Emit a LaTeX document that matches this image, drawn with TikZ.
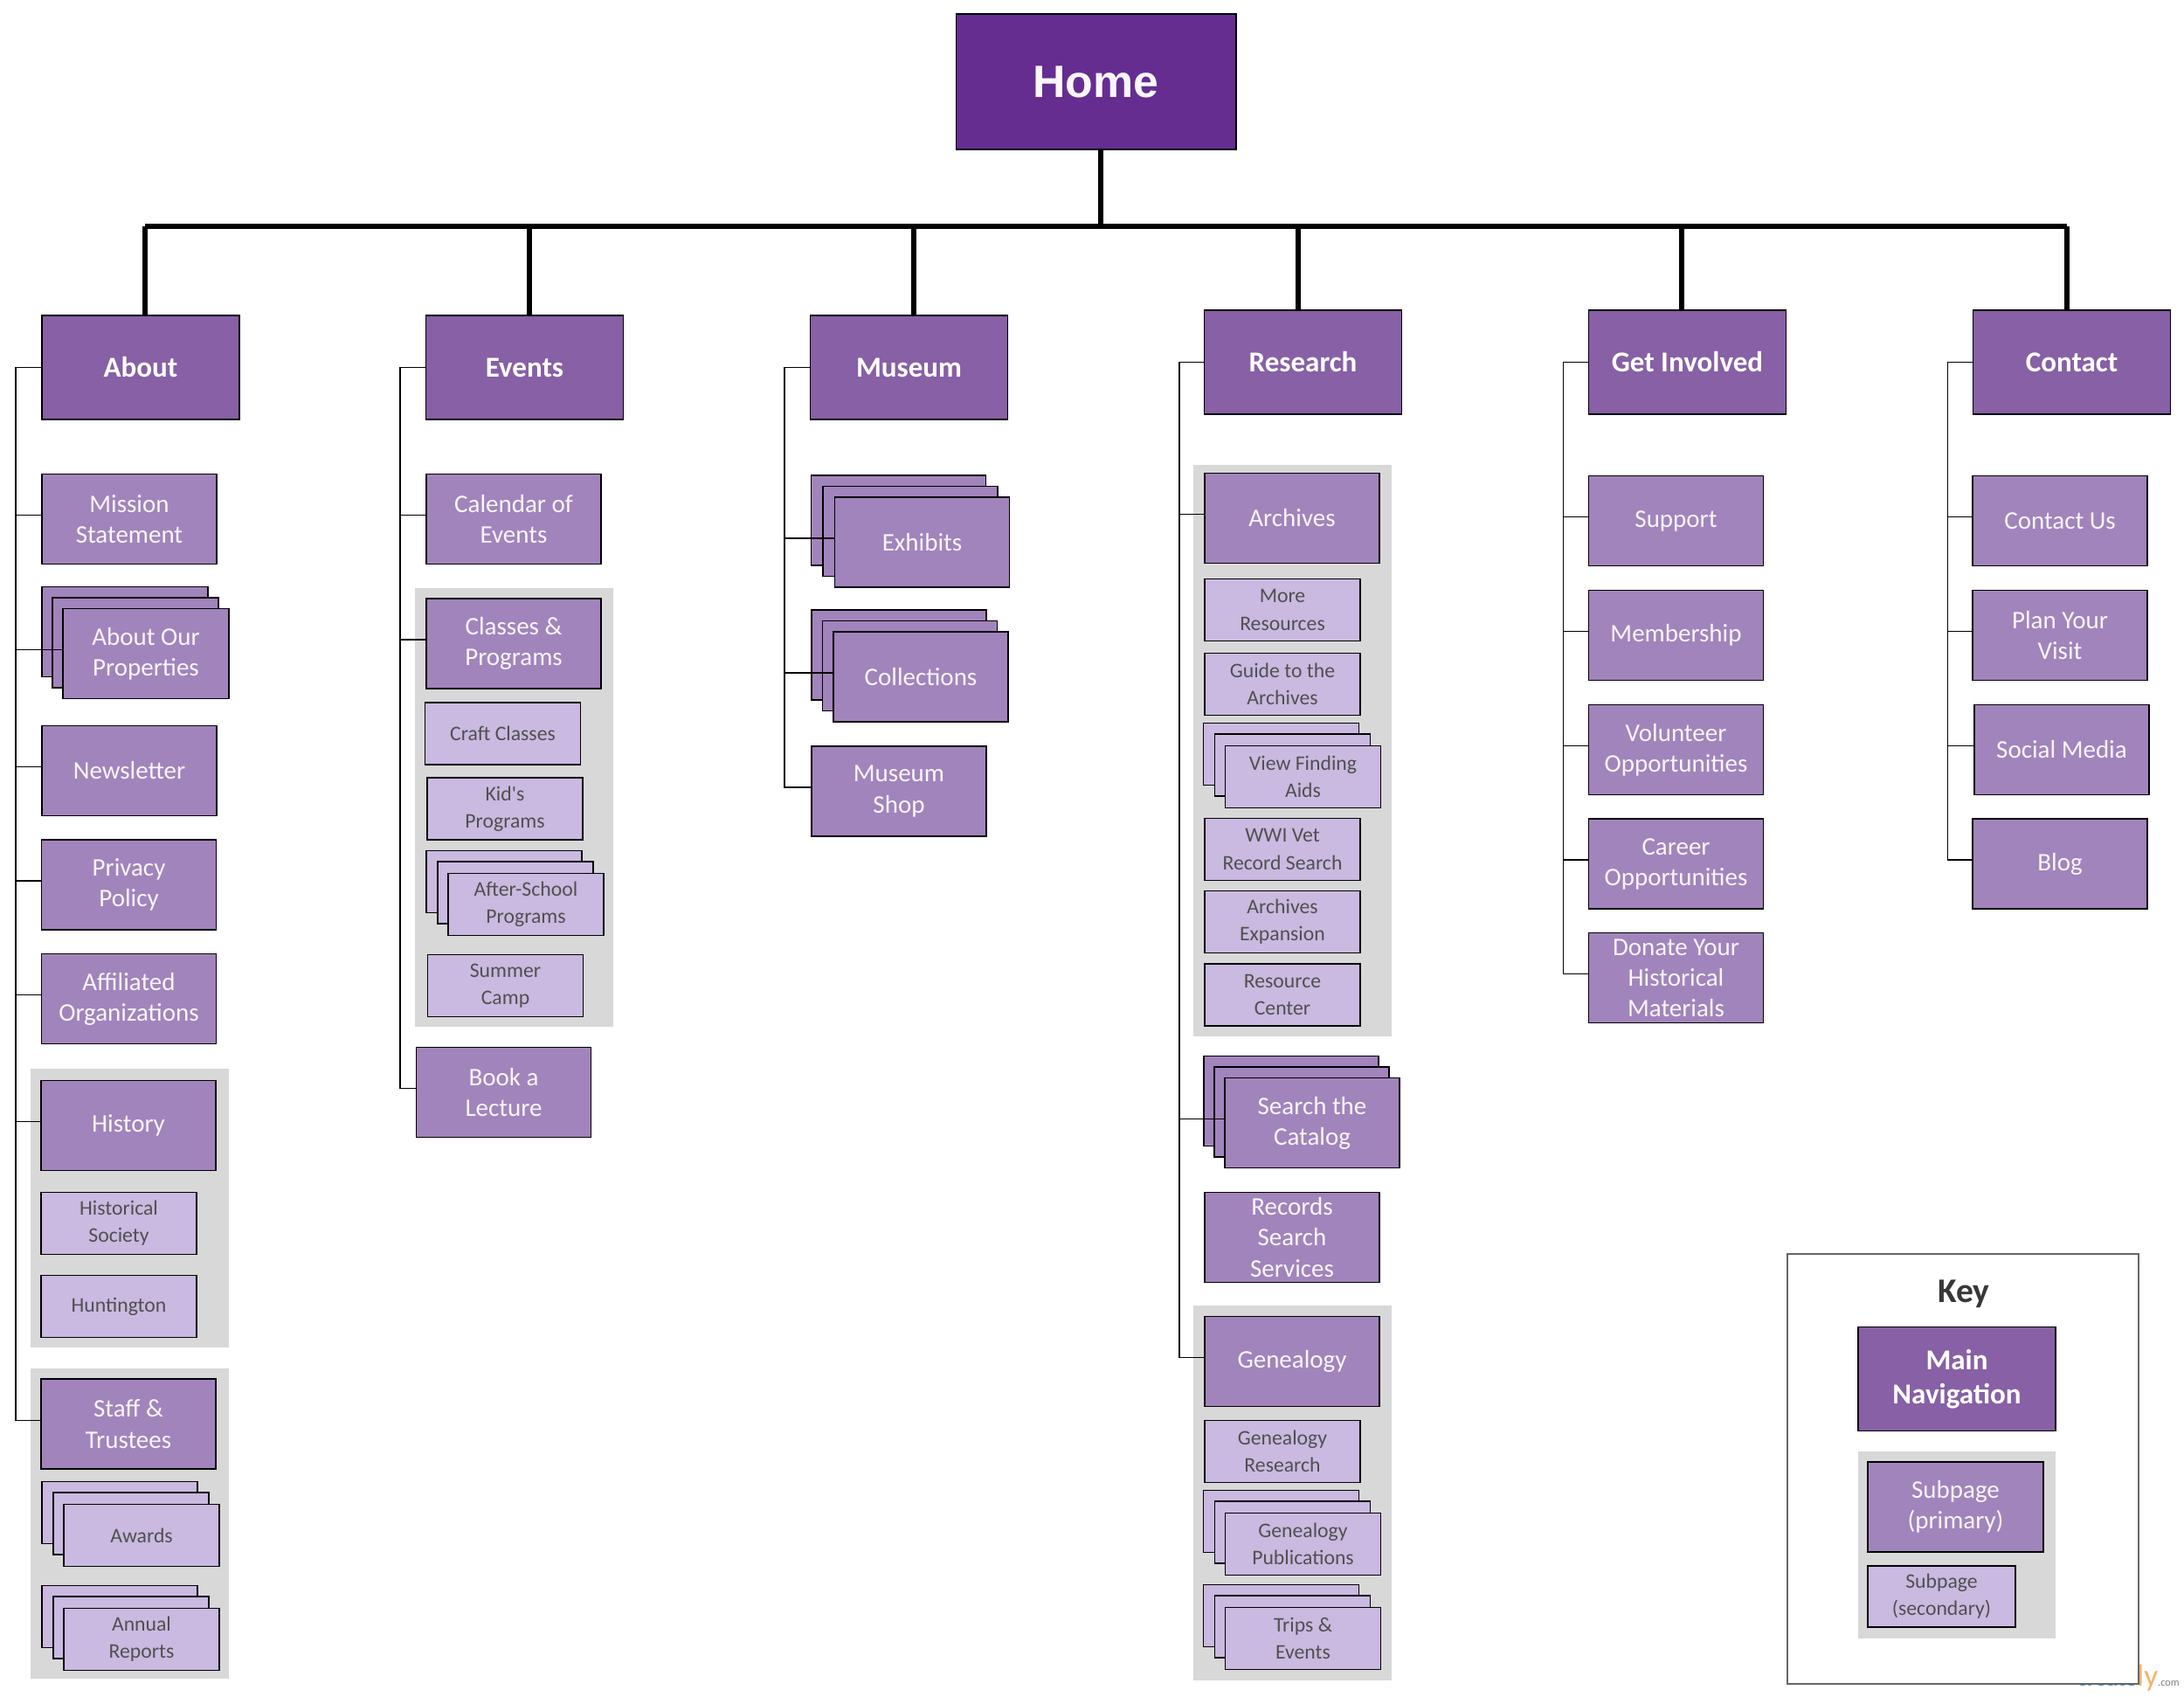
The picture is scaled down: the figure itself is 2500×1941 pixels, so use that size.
\documentclass[tikz,border=0pt]{standalone}
\usepackage{fontspec}
\setmainfont{Carlito}
\newfontfamily\homefont{Liberation Sans}
\newfontfamily\plainfont{Carlito}
\usetikzlibrary{shadows}
\definecolor{homecol}{HTML}{652D90}
\definecolor{maincol}{HTML}{8760A5}
\definecolor{primcol}{HTML}{A284BC}
\definecolor{seccol}{HTML}{CAB9E0}
\definecolor{panelcol}{HTML}{D8D8D8}
\definecolor{darktext}{HTML}{505050}
\definecolor{markblue}{HTML}{5B9BD5}
\definecolor{markorange}{HTML}{F5B26B}
\pgfdeclarelayer{panel}
\pgfsetlayers{panel,main}
\tikzset{
  box/.style={draw=black,line width=.75pt,inner sep=0pt,align=center},
  mainbox/.style={box,fill=maincol,text=white,minimum width=4.52cm,minimum height=2.38cm,
    font=\fontsize{18.8}{22}\selectfont\bfseries},
  primary/.style={box,fill=primcol,text=white!92!primcol,minimum width=4cm,minimum height=2.06cm,
    font=\fontsize{16.5}{20}\selectfont},
  secondary/.style={box,fill=seccol,text=darktext,minimum width=3.56cm,minimum height=1.42cm,
    font=\fontsize{13.5}{17.7}\selectfont},
  stackprim/.style={primary,
    copy shadow={shadow xshift=-#1,shadow yshift=.5cm,fill=primcol,draw=black,line width=.75pt},
    copy shadow={shadow xshift=-#1/2,shadow yshift=.25cm,fill=primcol,draw=black,line width=.75pt}},
  stackprim/.default=.48cm,
  stacksec/.style={secondary,
    copy shadow={shadow xshift=-.5cm,shadow yshift=.52cm,fill=seccol,draw=black,line width=.75pt},
    copy shadow={shadow xshift=-.24cm,shadow yshift=.27cm,fill=seccol,draw=black,line width=.75pt}},
  panelbox/.style={fill=panelcol,inner sep=0pt,minimum width=4.54cm},
  trunk/.style={draw=black,line width=3pt},
  twig/.style={draw=black,line width=.6pt},
}
\begin{document}
\begin{tikzpicture}[x=.02cm,y=-.02cm]
  \useasboundingbox (0,0) rectangle (2500,1941);

  \node[box,fill=homecol,text=white!96!homecol,minimum width=6.42cm,minimum height=3.1cm,line width=.6pt,
    font=\homefont\fontsize{29.5}{34}\selectfont\bfseries] (home) at (1254.5,93.5) {\raisebox{-.8pt}{Home}};

  \node[mainbox] (about) at (161,420.5) {About};
  \node[mainbox] (events) at (600.5,420.5) {Events};
  \node[mainbox] (museum) at (1040.5,420.5) {Museum};
  \node[mainbox] (research) at (1491.5,414.5) {Research};
  \node[mainbox] (involved) at (1931.5,414.5) {Get Involved};
  \node[mainbox] (contact) at (2371.5,414.5) {Contact};

  % about
  \node[primary] (mission) at (148,594) {Mission\\Statement};
  \node[stackprim,minimum width=3.8cm] (props) at (167,748) {About Our\\Properties};
  \node[primary] (newsletter) at (148,882) {Newsletter};
  \node[primary] (privacy) at (147.5,1012.5) {Privacy\\Policy};
  \node[primary] (affiliated) at (147.5,1143) {Affiliated\\Organizations};
  \node[primary] (history) at (147,1288) {History};
  \node[secondary] (society) at (136,1400) {Historical\\Society};
  \node[secondary] (huntington) at (136,1495) {Huntington};
  \node[primary] (staff) at (147,1629.5) {Staff \&\\Trustees};
  \node[stacksec] (awards) at (162,1757) {Awards};
  \node[stacksec] (reports) at (162,1876) {Annual\\Reports};

  % events
  \node[primary] (calendar) at (588,594) {Calendar of\\Events};
  \node[primary] (classes) at (588,736.5) {Classes \&\\Programs};
  \node[secondary] (craft) at (575.5,839.5) {Craft Classes};
  \node[secondary] (kids) at (578,925.5) {Kid{\plainfont'}s\\Programs};
  \node[stacksec] (afterschool) at (602,1035) {After-School\\Programs};
  \node[secondary] (camp) at (578.5,1128) {Summer\\Camp};
  \node[primary] (lecture) at (576.5,1250) {Book a\\Lecture};

  % museum
  \node[stackprim=.54cm] (exhibits) at (1055.5,620.5) {Exhibits};
  \node[stackprim=.5cm] (collections) at (1054,774.5) {Collections};
  \node[primary] (shop) at (1029,905.5) {Museum\\Shop};

  % research
  \node[primary] (archives) at (1479,593) {Archives};
  \node[secondary] (resources) at (1468,698) {More\\Resources};
  \node[secondary] (guide) at (1468,783) {Guide to the\\Archives};
  \node[stacksec] (findingaids) at (1491.5,889) {View Finding\\Aids};
  \node[secondary] (vet) at (1468,972) {WWI Vet\\Record Search};
  \node[secondary] (expansion) at (1468,1055) {Archives\\Expansion};
  \node[secondary] (center) at (1468,1138.5) {Resource\\Center};
  \node[stackprim] (catalog) at (1502,1285) {Search the\\Catalog};
  \node[primary] (records) at (1479,1416) {Records\\Search\\Services};
  \node[primary] (genealogy) at (1479,1558) {Genealogy};
  \node[secondary] (genresearch) at (1468,1661) {Genealogy\\Research};
  \node[stacksec] (publications) at (1491.5,1767) {Genealogy\\Publications};
  \node[stacksec] (trips) at (1491.5,1875) {Trips \&\\Events};

  % get involved
  \node[primary] (support) at (1918.5,596) {Support};
  \node[primary] (membership) at (1918.5,727) {Membership};
  \node[primary] (volunteer) at (1918.5,858) {Volunteer\\Opportunities};
  \node[primary] (career) at (1918.5,988.5) {Career\\Opportunities};
  \node[primary] (donate) at (1918.5,1119) {Donate Your\\Historical\\Materials};

  % contact
  \node[primary] (contactus) at (2358,596) {Contact Us};
  \node[primary] (visit) at (2358,727) {Plan Your\\Visit};
  \node[primary] (social) at (2360,858) {Social Media};
  \node[primary] (blog) at (2358,988.5) {Blog};

  % key
  \node[text=darktext!70!black,font=\fontsize{22.5}{26}\selectfont\bfseries] (keytitle) at (2248,1481) {Key};
  \node[mainbox] (keymain) at (2240,1578) {Main\\Navigation};
  \node[primary,minimum width=4.02cm] (keyprim) at (2238.5,1724.5) {Subpage\\(primary)};
  \node[secondary,minimum width=3.38cm,minimum height=1.4cm] (keysec) at (2222.5,1827) {Subpage\\(secondary)};

  \begin{pgfonlayer}{panel}
    \node[inner sep=0pt,anchor=base east] (mark) at (2495,1929)
      {\textcolor{markblue}{\fontsize{15}{18}\selectfont\bfseries create}\textcolor{markorange}{\fontsize{20}{24}\selectfont ly}\textcolor{gray}{\fontsize{7}{9}\selectfont .com}};
    \node[draw=black!60,fill=white,line width=1pt,inner sep=0pt,minimum width=8.04cm,minimum height=9.85cm]
      (keyframe) at (2247,1681) {};
    \node[panelbox] (historyback) at (148.5,1382.5) [minimum height=6.38cm] {};
    \node[panelbox] (staffback) at (148.5,1743.5) [minimum height=7.1cm] {};
    \node[panelbox] (classesback) at (588.5,924) [minimum height=10.04cm] {};
    \node[panelbox] (archivesback) at (1479.5,859) [minimum height=13.08cm] {};
    \node[panelbox] (genealogyback) at (1479.5,1708.5) [minimum height=8.58cm] {};
    \node[panelbox,minimum width=4.52cm] (keyback) at (2240,1768) [minimum height=4.28cm] {};
  \end{pgfonlayer}

  \coordinate (hub) at (1260,259);
  \draw[trunk] (hub |- home.south) -- (hub);
  \foreach \n/\x in {about/166,events/606,museum/1046,research/1486,involved/1925,contact/2366}{
    \coordinate (\n-bar) at (\x,259);
    \draw[trunk] (\n-bar) -- (\n-bar |- \n.north);
  }
  \draw[trunk] (about-bar) -- (contact-bar);

  % one spine per column, then its twigs
  \foreach \n/\x/\last in {about/18/staff,events/458/lecture,museum/898/shop,research/1350/genealogy,involved/1789/donate,contact/2229/blog}{
    \coordinate (\n-spine) at (\x,0 |- \n.west);
    \draw[twig] (\n.west) -- (\n-spine) |- ([yshift=.09cm]\last.west);
  }
  \foreach \n/\k in {about/mission,about/props,about/newsletter,about/privacy,about/affiliated,about/history,
      events/calendar,events/classes,museum/exhibits,museum/collections,research/archives,research/catalog,
      involved/support,involved/membership,involved/volunteer,involved/career,
      contact/contactus,contact/visit,contact/social}{
    \coordinate (\k-tip) at ([yshift=.09cm]\k.west);
    \draw[twig] (\k-tip -| \n-spine) -- (\k-tip);
  }
\end{tikzpicture}
\end{document}
